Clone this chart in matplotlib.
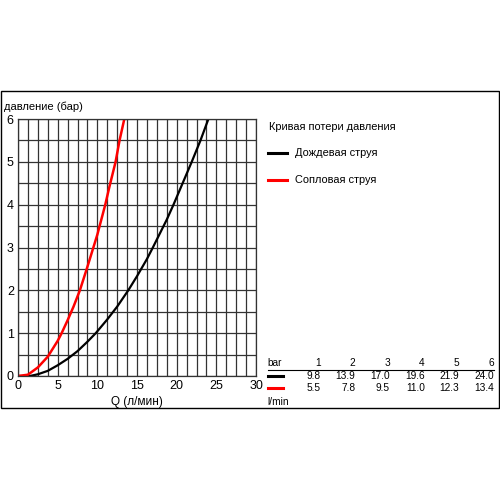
import numpy as np
import matplotlib
matplotlib.use('Agg')
import matplotlib.pyplot as plt
from matplotlib.patches import Rectangle

plt.rcParams['font.family'] = ['Liberation Sans', 'DejaVu Sans']

# points (Q l/min, pressure bar)
q_rain = [0, 1.5, 2.5, 3.75, 5, 6.25, 7.5, 8.75, 9.8, 11.25, 12.5, 13.9,
          15, 16.25, 17.0, 18.75, 19.6, 20.75, 21.9, 23, 24.0]
p_rain = [0, 0.0, 0.04, 0.12, 0.25, 0.4, 0.58, 0.8, 1.0, 1.32, 1.62, 2.0,
          2.33, 2.73, 3.0, 3.65, 4.0, 4.5, 5.0, 5.5, 6.0]
q_jet = [0, 1.25, 2.5, 3.75, 5, 5.5, 6.25, 7, 7.8, 8.75, 9.5, 10, 11.0,
         11.5, 12.3, 12.8, 13.4]
p_jet = [0, 0.03, 0.2, 0.45, 0.82, 1.0, 1.3, 1.62, 2.0, 2.55, 3.0, 3.3, 4.0,
         4.4, 5.0, 5.5, 6.0]

# table
bar_vals = ['1', '2', '3', '4', '5', '6']
rain_tab = ['9.8', '13.9', '17.0', '19.6', '21.9', '24.0']
jet_tab = ['5.5', '7.8', '9.5', '11.0', '12.3', '13.4']

fig = plt.figure(figsize=(5, 5), dpi=100)
fig.patches.append(Rectangle((0.001, 0.184), 0.996, 0.634, transform=fig.transFigure,
                             fill=False, ec='black', lw=1.0))

ax = fig.add_axes([0.036, 0.248, 0.476, 0.514])
ax.set_xlim(0, 30)
ax.set_ylim(0, 6)
ax.set_xticks([0, 5, 10, 15, 20, 25, 30])
ax.set_yticks(range(7))
ax.set_xticks(np.arange(0, 30.01, 1.25), minor=True)
ax.set_yticks(np.arange(0, 6.01, 0.5), minor=True)
ax.grid(which='minor', color='#333333', lw=0.9)
ax.grid(which='major', color='#333333', lw=0.9)
ax.tick_params(which='both', length=0, labelsize=9, pad=3)
for s in ax.spines.values():
    s.set_color('#333333')
    s.set_linewidth(0.9)

ax.plot(q_rain, p_rain, color='black', lw=1.6, solid_capstyle='butt')
ax.plot(q_jet, p_jet, color='#ff0000', lw=1.8, solid_capstyle='butt')

fig.text(0.008, 0.787, 'давление (бар)', fontsize=8, va='center')
fig.text(0.274, 0.196, 'Q (л/мин)', fontsize=8.5, ha='center', va='center')

# legend
fig.text(0.538, 0.745, 'Кривая потери давления', fontsize=7.9, va='center')
fig.add_artist(plt.Line2D([0.536, 0.574], [0.694, 0.694], color='black', lw=2.2))
fig.text(0.59, 0.694, 'Дождевая струя', fontsize=7.9, va='center')
fig.add_artist(plt.Line2D([0.536, 0.574], [0.640, 0.640], color='#ff0000', lw=2.2))
fig.text(0.59, 0.640, 'Сопловая струя', fontsize=7.9, va='center')

# value table
cols = [0.641 + i * 0.0695 for i in range(6)]
fig.text(0.535, 0.274, 'bar', fontsize=7.3, va='center')
fig.add_artist(plt.Line2D([0.535, 0.988], [0.261, 0.261], color='black', lw=0.8))
fig.add_artist(plt.Line2D([0.535, 0.566], [0.249, 0.249], color='black', lw=2.2))
fig.add_artist(plt.Line2D([0.535, 0.566], [0.224, 0.224], color='#ff0000', lw=2.2))
for x, b, r, j in zip(cols, bar_vals, rain_tab, jet_tab):
    fig.text(x, 0.274, b, fontsize=7.3, ha='right', va='center')
    fig.text(x, 0.248, r, fontsize=7.3, ha='right', va='center')
    fig.text(x, 0.224, j, fontsize=7.3, ha='right', va='center')
fig.text(0.535, 0.196, 'l/min', fontsize=7.3, va='center')

fig.savefig('out.png', dpi=100)
